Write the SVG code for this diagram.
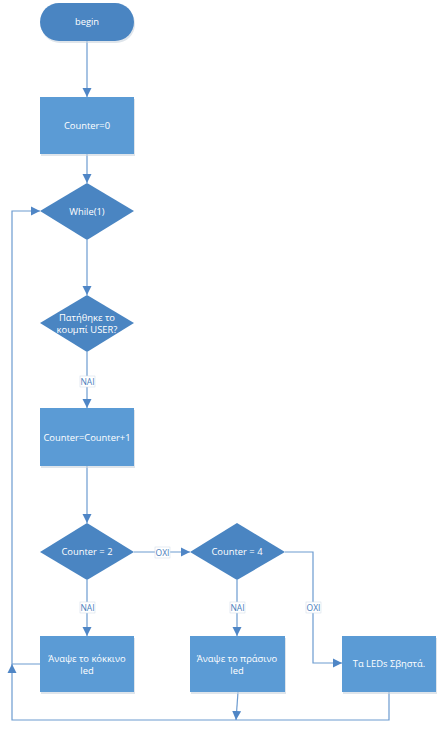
<svg xmlns="http://www.w3.org/2000/svg" width="443" height="734" viewBox="0 0 443 734">
<style>
.r{fill:#5B9BD5}
.d{fill:#4A85C2}
.sh{fill:#C9D3DD;opacity:0.6}
.t{font-family:"Open Sans","Noto Sans",sans-serif;font-size:9.4px;fill:#FFFFFF;text-anchor:middle}
.c{fill:none;stroke:#6C9BD0;stroke-width:1.2}
.lb{font-family:"Open Sans","Noto Sans",sans-serif;font-size:8.5px;fill:#4A7EBB;text-anchor:middle}
.lbg{fill:#FFFFFF;stroke:#D5DFEA;stroke-width:0.6}
</style>
<defs>
<marker id="a" markerWidth="10" markerHeight="10" refX="9" refY="5" orient="auto" markerUnits="userSpaceOnUse">
<path d="M0,0.5 L9,5 L0,9.5 Z" fill="#4F86C6"/>
</marker>
</defs>
<rect width="443" height="734" fill="#FFFFFF"/>
<g id="connectors">
<line class="c" x1="87" y1="41" x2="87" y2="97" marker-end="url(#a)"/>
<line class="c" x1="87" y1="154" x2="87" y2="183" marker-end="url(#a)"/>
<line class="c" x1="87" y1="240" x2="87" y2="295" marker-end="url(#a)"/>
<line class="c" x1="87" y1="352" x2="87" y2="408" marker-end="url(#a)"/>
<line class="c" x1="87" y1="466" x2="87" y2="523" marker-end="url(#a)"/>
<line class="c" x1="134" y1="552" x2="190" y2="552" marker-end="url(#a)"/>
<line class="c" x1="87" y1="580" x2="87" y2="636" marker-end="url(#a)"/>
<line class="c" x1="237" y1="580" x2="237" y2="636" marker-end="url(#a)"/>
<polyline class="c" points="285,552 313,552 313,663 342,663" marker-end="url(#a)"/>
<polyline class="c" points="40,664 12,664 12,211 40,211" marker-end="url(#a)"/>
<polyline class="c" points="389,692 389,720 12,720 12,664" marker-end="url(#a)"/>
<line class="c" x1="238" y1="692" x2="236" y2="720" marker-end="url(#a)"/>
<rect class="lbg" x="80" y="376" width="15" height="11"/>
<text class="lb" x="87.5" y="385">ΝΑΙ</text>
<rect class="lbg" x="155" y="547" width="15" height="11"/>
<text class="lb" x="162.5" y="556">ΟΧΙ</text>
<rect class="lbg" x="80" y="602" width="15" height="11"/>
<text class="lb" x="87.5" y="611">ΝΑΙ</text>
<rect class="lbg" x="230" y="602" width="15" height="11"/>
<text class="lb" x="237.5" y="611">ΝΑΙ</text>
<rect class="lbg" x="306" y="602" width="15" height="11"/>
<text class="lb" x="313.5" y="611">ΟΧΙ</text>
</g>
<g id="begin">
<rect class="sh" x="41" y="5" width="94" height="38" rx="19"/>
<rect class="d" x="40" y="3" width="94" height="38" rx="19"/>
<text class="t" x="87" y="25">begin</text>
</g>
<g id="counter0">
<rect class="sh" x="41" y="99" width="94" height="57"/>
<rect class="r" x="40" y="97" width="94" height="57"/>
<text class="t" x="87" y="129">Counter=0</text>
</g>
<g id="while">
<polygon class="d" points="87,183 134,211 87,240 40,211"/>
<text class="t" x="87" y="215">While(1)</text>
</g>
<g id="pressed">
<polygon class="d" points="87,295 134,323 87,352 40,323"/>
<text class="t" x="87" y="321">Πατήθηκε το</text>
<text class="t" x="87" y="333">κουμπί USER?</text>
</g>
<g id="increment">
<rect class="sh" x="41" y="410" width="94" height="58"/>
<rect class="r" x="40" y="408" width="94" height="58"/>
<text class="t" x="87" y="441">Counter=Counter+1</text>
</g>
<g id="eq2">
<polygon class="d" points="87,523 134,552 87,580 40,552"/>
<text class="t" x="87" y="555">Counter = 2</text>
</g>
<g id="eq4">
<polygon class="d" points="237,523 285,552 237,580 190,552"/>
<text class="t" x="237" y="555">Counter = 4</text>
</g>
<g id="red">
<rect class="sh" x="41" y="638" width="94" height="56"/>
<rect class="r" x="40" y="636" width="94" height="56"/>
<text class="t" x="87" y="662">Άναψε το κόκκινο</text>
<text class="t" x="87" y="674">led</text>
</g>
<g id="green">
<rect class="sh" x="191" y="638" width="95" height="56"/>
<rect class="r" x="190" y="636" width="95" height="56"/>
<text class="t" x="237" y="662">Άναψε το πράσινο</text>
<text class="t" x="237" y="674">led</text>
</g>
<g id="off">
<rect class="sh" x="343" y="638" width="94" height="56"/>
<rect class="r" x="342" y="636" width="94" height="56"/>
<text class="t" x="389" y="667">Τα LEDs Σβηστά.</text>
</g>
</svg>
